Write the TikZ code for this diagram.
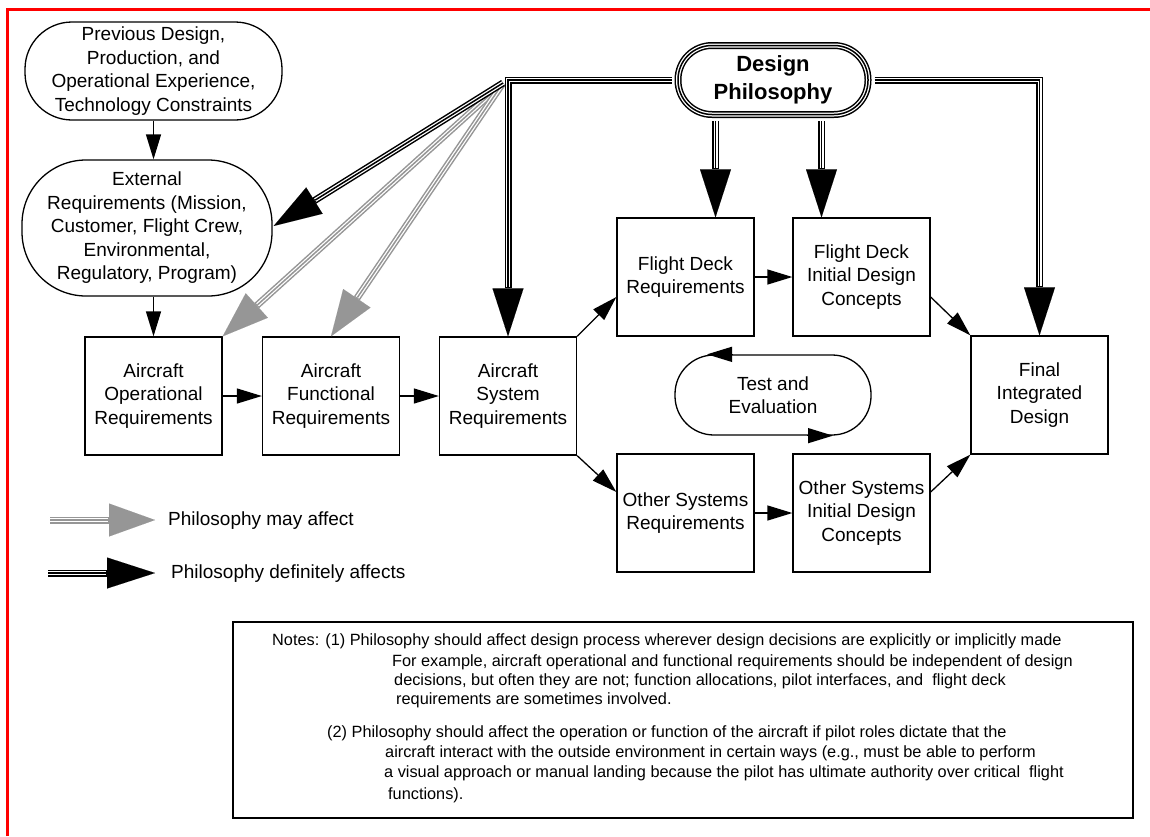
\documentclass[tikz,border=0pt]{standalone}
\usepackage{fontspec}
\setmainfont{Liberation Sans}
\usetikzlibrary{arrows.meta,calc}
\definecolor{philgray}{RGB}{150,150,150}
\definecolor{framered}{RGB}{255,0,0}
\begin{document}
\begin{tikzpicture}[x=1pt,y=-1pt,
  txt/.style={font=\fontsize{19}{23.5}\selectfont, align=center},
  box/.style={txt, draw, line width=1.3pt, minimum width=137pt, minimum height=118pt, inner sep=1pt},
  oval/.style={txt, draw, line width=1.3pt, inner sep=0pt},
  conn/.style={line width=1.3pt, -{Triangle[length=25pt,width=15pt]}},
  defarr/.style={draw=black, line width=7pt, line join=miter,
     -{Triangle[length=48pt,width=31pt,line width=0.01pt]},
     postaction={draw=white, line width=4pt, -, shorten >=49pt},
     postaction={draw=black, line width=1.5pt, -, shorten >=49pt}},
  mayarr/.style={draw=philgray, line width=7pt, line join=miter,
     -{Triangle[length=46pt,width=33pt,line width=0.01pt]},
     postaction={draw=white, line width=4pt, -, shorten >=47pt},
     postaction={draw=philgray, line width=1.5pt, -, shorten >=47pt}},
  dpnode/.style={draw=black, fill=white, line width=7pt, rounded corners=34pt,
     minimum width=190pt, minimum height=69pt, inner sep=0pt, align=center,
     font=\fontsize{22}{27.5}\selectfont\bfseries,
     postaction={draw=white, line width=4pt},
     postaction={draw=black, line width=1.5pt}},
  notetext/.style={font=\fontsize{16.3}{20}\selectfont, anchor=west, inner sep=0pt}
]
\useasboundingbox (0,0) rectangle (1150,836);
% red frame
\draw[framered, line width=2.7pt] (7.3,836) -- (7.3,9.3) -- (1150,9.3);

% nodes
\node[oval, rounded corners=47pt, minimum width=257pt, minimum height=98pt] (prev) at (153.5,71)
  {Previous Design,\\Production, and\\Operational Experience,\\Technology Constraints};
\node[oval, rounded corners=64pt, minimum width=250pt, minimum height=136pt] (ext) at (147,228)
  {External\\Requirements (Mission,\\Customer, Flight Crew,\\Environmental,\\Regulatory, Program)};
\node[box] (aor) at (153.5,396) {Aircraft\\Operational\\Requirements};
\node[box] (afr) at (331,396) {Aircraft\\Functional\\Requirements};
\node[box] (asr) at (508,396) {Aircraft\\System\\Requirements};
\node[box] (fdr) at (685.5,277) {Flight Deck\\Requirements};
\node[box] (fdidc) at (861.5,277) {Flight Deck\\Initial Design\\Concepts};
\node[box] (osr) at (685.5,513) {Other Systems\\Requirements};
\node[box] (osidc) at (861.5,513) {Other Systems\\Initial Design\\Concepts};
\node[box] (final) at (1039.5,395) {Final\\Integrated\\Design};
\node[oval, rounded corners=39pt, minimum width=196pt, minimum height=80pt] (te) at (773,395)
  {Test and\\Evaluation};
\node[dpnode] (dp) at (773,80) {Design\\Philosophy};

% thin connectors
\draw[conn] (prev.south) -- (prev.south |- ext.north);
\draw[conn] (ext.south -| aor.north) -- (aor.north);
\draw[conn] (aor.east) -- (afr.west);
\draw[conn] (afr.east) -- (asr.west);
\draw[conn] (asr.north east) -- ($(fdr.west)+(0,20)$);
\draw[conn] (asr.south east) -- ($(osr.west)+(0,-21)$);
\draw[conn] (fdr.east) -- (fdidc.west);
\draw[conn] (osr.east) -- (osidc.west);
\draw[conn] ($(fdidc.east)+(0,20)$) -- (final.north west);
\draw[conn] ($(osidc.east)+(0,-21)$) -- (final.south west);
\draw[conn] ($(te.north)+(-40,0)$) -- ($(te.north)+(-66,0)$);
\draw[conn] ($(te.south)+(34,0)$) -- ($(te.south)+(60,0)$);

% philosophy arrows
\coordinate (hub) at (503,83);
\coordinate (fdrin) at ($(fdr.north)+(30,0)$);
\coordinate (fdidcin) at ($(fdidc.north)+(-40,0)$);
\draw[mayarr] (hub) -- (aor.north east);
\draw[mayarr] (hub) -- (afr.north);
\draw[defarr] (hub) -- ($(ext.east)+(1,-2)$);
\draw[defarr, shorten <=3pt] (dp.west) -| (asr.north);
\draw[defarr, shorten <=3pt] (dp.east) -| (final.north);
\draw[defarr, shorten <=3pt] (dp.south -| fdrin) -- (fdrin);
\draw[defarr, shorten <=3pt] (dp.south -| fdidcin) -- (fdidcin);

% legend
\coordinate (l1a) at (50,520);
\coordinate (l1b) at (155,520);
\coordinate (l2a) at (48,573);
\coordinate (l2b) at (155,573);
\draw[mayarr] (l1a) -- (l1b);
\draw[defarr] (l2a) -- (l2b);
\node[txt, anchor=west, inner sep=0pt] (l1t) at (168,521) {Philosophy may affect};
\node[txt, anchor=west, inner sep=0pt] (l2t) at (171,574) {Philosophy definitely affects};

% notes
\node[draw, line width=1.3pt, minimum width=900pt, minimum height=196pt] (notes) at (683,720) {};
\node[notetext] (n1) at (272,641) {Notes: (1) Philosophy should affect design process wherever design decisions are explicitly or implicitly made};
\node[notetext] (n2) at (392,662) {For example, aircraft operational and functional requirements should be independent of design};
\node[notetext] (n3) at (394,681) {decisions, but often they are not; function allocations, pilot interfaces, and\ \ flight deck};
\node[notetext] (n4) at (396,700) {requirements are sometimes involved.};
\node[notetext] (n5) at (327,733) {(2) Philosophy should affect the operation or function of the aircraft if pilot roles dictate that the};
\node[notetext] (n6) at (385,753) {aircraft interact with the outside environment in certain ways (e.g., must be able to perform};
\node[notetext] (n7) at (384,773) {a visual approach or manual landing because the pilot has ultimate authority over critical\ \ flight};
\node[notetext] (n8) at (388,795) {functions).};
\end{tikzpicture}
\end{document}
